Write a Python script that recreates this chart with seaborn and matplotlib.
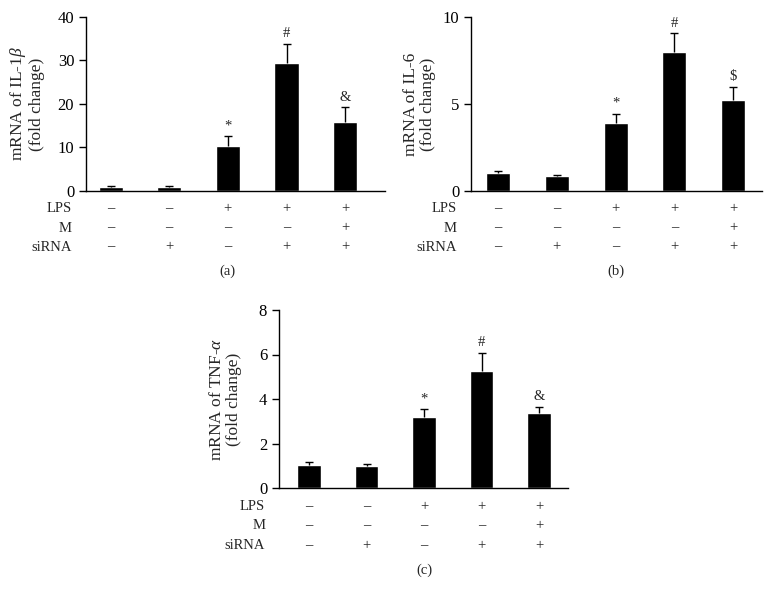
import matplotlib
matplotlib.use("Agg")
import matplotlib.pyplot as plt
from matplotlib import transforms
import seaborn as sns
import pandas as pd
import numpy as np

sns.set_theme(style="ticks")
plt.rcParams['font.family'] = ['Liberation Serif', 'DejaVu Serif']
plt.rcParams['mathtext.fontset'] = 'custom'
plt.rcParams['mathtext.it'] = 'Liberation Serif:italic'
plt.rcParams['mathtext.rm'] = 'Liberation Serif'

groups = ["G1", "G2", "G3", "G4", "G5"]
lps = ["–", "–", "+", "+", "+"]
m_row = ["–", "–", "–", "–", "+"]
sirna = ["–", "+", "–", "+", "+"]
row_names = ["LPS", "M", "siRNA"]

il1b_mean = [1.0, 0.9, 10.4, 29.5, 15.8]
il1b_err = [0.15, 0.15, 2.2, 4.4, 3.4]
il1b_marks = ["", "", "*", "#", "&"]

il6_mean = [1.02, 0.84, 3.9, 7.97, 5.25]
il6_err = [0.13, 0.10, 0.55, 1.09, 0.75]
il6_marks = ["", "", "*", "#", "$"]

tnf_mean = [1.03, 1.0, 3.17, 5.26, 3.35]
tnf_err = [0.12, 0.10, 0.37, 0.79, 0.31]
tnf_marks = ["", "", "*", "#", "&"]

W, H = 773, 609
fig = plt.figure(figsize=(W / 100, H / 100), dpi=100)
fig.patch.set_facecolor("white")


def px_axes(left, right, top, bottom):
    return fig.add_axes([left / W, 1 - bottom / H, (right - left) / W, (bottom - top) / H])


panels = [
    dict(ax=px_axes(86, 385, 17, 191), mean=il1b_mean, err=il1b_err, marks=il1b_marks,
         ylim=(0, 40), yticks=[0, 10, 20, 30, 40], xlim=(-0.42, 4.68),
         ylabel="mRNA of IL-1$\\mathit{\\beta}$\n(fold change)", lab=(-0.138, 0.5), tag="(a)",
         mark_off=0.9),
    dict(ax=px_axes(471, 762, 17, 191), mean=il6_mean, err=il6_err, marks=il6_marks,
         ylim=(0, 10), yticks=[0, 5, 10], xlim=(-0.46, 4.49),
         ylabel="mRNA of IL-6\n(fold change)", lab=(-0.12, 0.5), tag="(b)",
         mark_off=0.22),
    dict(ax=px_axes(279, 568, 310, 488), mean=tnf_mean, err=tnf_err, marks=tnf_marks,
         ylim=(0, 8), yticks=[0, 2, 4, 6, 8], xlim=(-0.52, 4.5),
         ylabel="mRNA of TNF-$\\alpha$\n(fold change)", lab=(-0.128, 0.5), tag="(c)",
         mark_off=0.18),
]

for p in panels:
    ax = p["ax"]
    df = pd.DataFrame({"group": groups, "value": p["mean"]})
    sns.barplot(data=df, x="group", y="value", color="black", width=0.41,
                errorbar=None, ax=ax, saturation=1)
    x = np.arange(len(groups))
    _, caps, _ = ax.errorbar(x, p["mean"], yerr=[np.zeros(len(groups)), p["err"]], fmt="none",
                             ecolor="black", elinewidth=1.0, capsize=3, capthick=1.0)
    if len(caps) == 2:
        caps[0].set_visible(False)
    for xi, m, e, t in zip(x, p["mean"], p["err"], p["marks"]):
        if t:
            ax.text(xi, m + e + p["mark_off"], t, ha="center", va="bottom", fontsize=10.5)
    ax.set_ylim(*p["ylim"])
    ax.set_yticks(p["yticks"])
    ax.set_yticklabels([str(v) for v in p["yticks"]], fontfamily="Liberation Serif", fontsize=12)
    ax.set_xlim(*p["xlim"])
    ax.set_xticks([])
    ax.set_xlabel("")
    ax.set_ylabel(p["ylabel"], fontsize=12.5, linespacing=1.1)
    ax.yaxis.set_label_coords(*p["lab"])
    for s in ["top", "right"]:
        ax.spines[s].set_visible(False)
    for s in ["left", "bottom"]:
        ax.spines[s].set_linewidth(1.0)
        ax.spines[s].set_color("black")
    ax.tick_params(axis="y", length=5, width=1.0, colors="black", pad=3.5)
    ax.set_facecolor("white")
    trans = transforms.blended_transform_factory(ax.transData, ax.transAxes)
    ypos = [-0.103, -0.213, -0.322]
    for yy, name, row in zip(ypos, row_names, [lps, m_row, sirna]):
        ax.text(-0.048, yy, name, transform=ax.transAxes, ha="right", va="center", fontsize=10.5)
        for xi, s in zip(x, row):
            ax.text(xi, yy, s, transform=trans, ha="center", va="center", fontsize=10.5)
    ax.text(2, -0.46, p["tag"], transform=trans, ha="center", va="center", fontsize=10.5)

fig.savefig("out.png", dpi=100, facecolor="white")
